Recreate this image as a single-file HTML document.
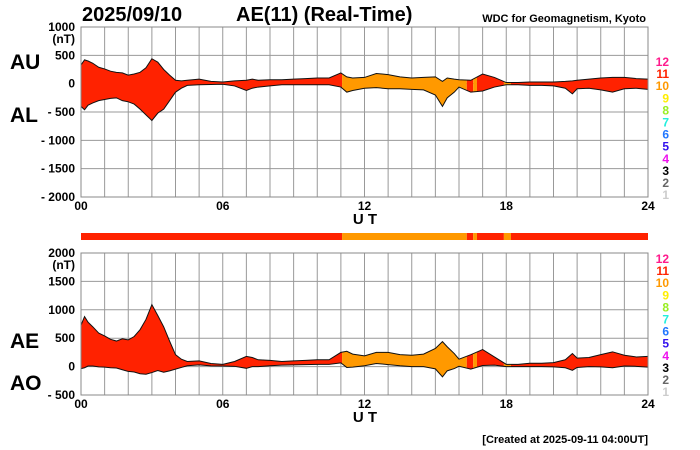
<!DOCTYPE html>
<html><head><meta charset="utf-8"><style>
body{margin:0;background:#fff;}
svg{display:block;font-family:"Liberation Sans",sans-serif;font-weight:bold;}
</style></head><body>
<svg id="c" width="700" height="450" viewBox="0 0 700 450"></svg>
<script>
const hours=[0,0.15,0.3,0.5,0.75,1,1.25,1.5,1.75,2,2.25,2.5,2.75,3,3.25,3.5,3.75,4,4.25,4.5,5,5.5,6,6.5,7,7.25,7.5,8,8.5,9,9.5,10,10.5,11,11.25,11.5,12,12.5,13,13.5,14,14.5,15,15.3,15.5,15.8,16,16.5,17,17.5,18,18.5,19,19.5,20,20.5,20.8,21,21.5,22,22.5,23,23.5,24];
const au=[330,420,400,360,290,260,220,200,190,150,170,200,280,440,380,250,150,60,50,60,80,40,30,50,60,80,60,70,70,80,90,100,100,190,120,100,110,180,160,120,100,110,120,40,100,80,70,60,170,110,20,20,30,30,30,40,50,60,80,100,110,110,90,80];
const al=[-400,-460,-380,-340,-300,-280,-260,-250,-300,-320,-360,-450,-550,-650,-520,-450,-300,-150,-80,-30,-20,-15,-10,-40,-120,-80,-60,-40,-20,-20,-20,-20,-20,-60,-150,-120,-80,-70,-90,-90,-100,-110,-200,-400,-250,-150,-60,-150,-130,-60,-20,-20,-30,-30,-40,-80,-180,-90,-80,-110,-150,-90,-80,-100];
const levelSegStart=[0,11.05,16.33,16.6,16.76,17.9,18.2];
const levelSegEnd=[11.05,16.33,16.6,16.76,17.9,18.2,24];
const levelSegLevel=[11,10,11,10,11,10,11];
const topTicks=[1000,500,0,-500,-1000,-1500,-2000];
const botTicks=[2000,1500,1000,500,0,-500];
const xTicks=[0,6,12,18,24];
const xTickLabels=["00","06","12","18","24"];
const levels=[12,11,10,9,8,7,6,5,4,3,2,1];
const levelColors=["#ff1a8c","#ff2200","#ff9900","#ffee00","#99ee22","#22eedd","#2277ff","#3311ee","#ee11ee","#000000","#666666","#cccccc"];

const S=document.getElementById('c');const NS='http://www.w3.org/2000/svg';
function mk(t,a,p,name,txt){const e=document.createElementNS(NS,t);for(const k in a)e.setAttribute(k,a[k]);


if(txt!==undefined)e.textContent=txt;(p||S).appendChild(e);return e;}
const X0=81,X1=648;const xs=h=>X0+(X1-X0)*h/24;
const yT=v=>27+(1000-v)*170/3000;const yB=v=>253+(2000-v)*142/2500;
const ae=au.map((u,i)=>u-al[i]);const ao=au.map((u,i)=>(u+al[i])/2);
function colorOf(l){return levelColors[levels.indexOf(l)];}
const defs=mk('defs',{},S,'defs');
function panel(id,yf,y0,y1,ticks,upper,lower,lab1,lab2,lab1y,lab2y,legTop){
 const g=mk('g',{},S,id+'-panel');
 for(let h=0;h<=24;h++)mk('line',{x1:xs(h),x2:xs(h),y1:y0,y2:y1,stroke:'#999','stroke-width':1},g,'v-gridline');
 ticks.forEach(t=>{mk('line',{x1:X0,x2:X1,y1:yf(t),y2:yf(t),stroke:'#999','stroke-width':1},g,'h-gridline');
  mk('text',{x:75,y:yf(t)+4,'font-size':12,'text-anchor':'end'},g,'y-tick-label',(t<0?'- '+(-t):t));});
 mk('text',{x:75,y:yf(ticks[0])+16,'font-size':12,'text-anchor':'end'},g,'y-unit-label','(nT)');
 let pts=hours.map((h,i)=>xs(h)+','+yf(upper[i]));
 for(let i=hours.length-1;i>=0;i--)pts.push(xs(hours[i])+','+yf(lower[i]));
 levelSegStart.forEach((s,i)=>{const cp=mk('clipPath',{id:id+'clip'+i},defs,'clip');
  mk('rect',{x:xs(s),y:y0,width:xs(levelSegEnd[i])-xs(s),height:y1-y0},cp,'clip-rect');
  mk('polygon',{points:pts.join(' '),fill:colorOf(levelSegLevel[i]),'clip-path':'url(#'+id+'clip'+i+')'},g,'area-fill-segment');});
 mk('polyline',{points:hours.map((h,i)=>xs(h)+','+yf(upper[i])).join(' '),fill:'none',stroke:'#111','stroke-width':1},g,lab1.toLowerCase()+'-line');
 mk('polyline',{points:hours.map((h,i)=>xs(h)+','+yf(lower[i])).join(' '),fill:'none',stroke:'#111','stroke-width':1},g,lab2.toLowerCase()+'-line');
 mk('rect',{x:X0,y:y0,width:X1-X0,height:y1-y0,fill:'none',stroke:'#888','stroke-width':1},g,'plot-frame');
 xTicks.forEach((h,i)=>mk('text',{x:xs(h),y:y1+13,'font-size':12,'text-anchor':'middle'},g,'x-tick-label',xTickLabels[i]));
 mk('text',{x:365,y:y1+27,'font-size':15,'text-anchor':'middle'},g,'x-axis-title','U T');
 mk('text',{x:10,y:lab1y,'font-size':21},g,lab1.toLowerCase()+'-label',lab1);
 mk('text',{x:10,y:lab2y,'font-size':21},g,lab2.toLowerCase()+'-label',lab2);
 levels.forEach((l,i)=>mk('text',{x:669,y:legTop+i*12.1,'font-size':12,'text-anchor':'end',fill:levelColors[i]},g,'level-legend-entry',l));
}
mk('text',{x:82,y:21,'font-size':20},S,'date-title','2025/09/10');
mk('text',{x:236,y:21,'font-size':20},S,'chart-title','AE(11) (Real-Time)');
mk('text',{x:646,y:22,'font-size':11,'text-anchor':'end'},S,'source-label','WDC for Geomagnetism, Kyoto');
panel('top',yT,27,197,topTicks,au,al,'AU','AL',69,122,66);
levelSegStart.forEach((s,i)=>mk('rect',{x:xs(s),y:233,width:xs(levelSegEnd[i])-xs(s),height:7,fill:colorOf(levelSegLevel[i])},S,'level-bar-segment'));
panel('bot',yB,253,395,botTicks,ae,ao,'AE','AO',348,390,263);
mk('text',{x:648,y:443,'font-size':11,'text-anchor':'end'},S,'created-note','[Created at 2025-09-11 04:00UT]');
</script>
</body></html>
